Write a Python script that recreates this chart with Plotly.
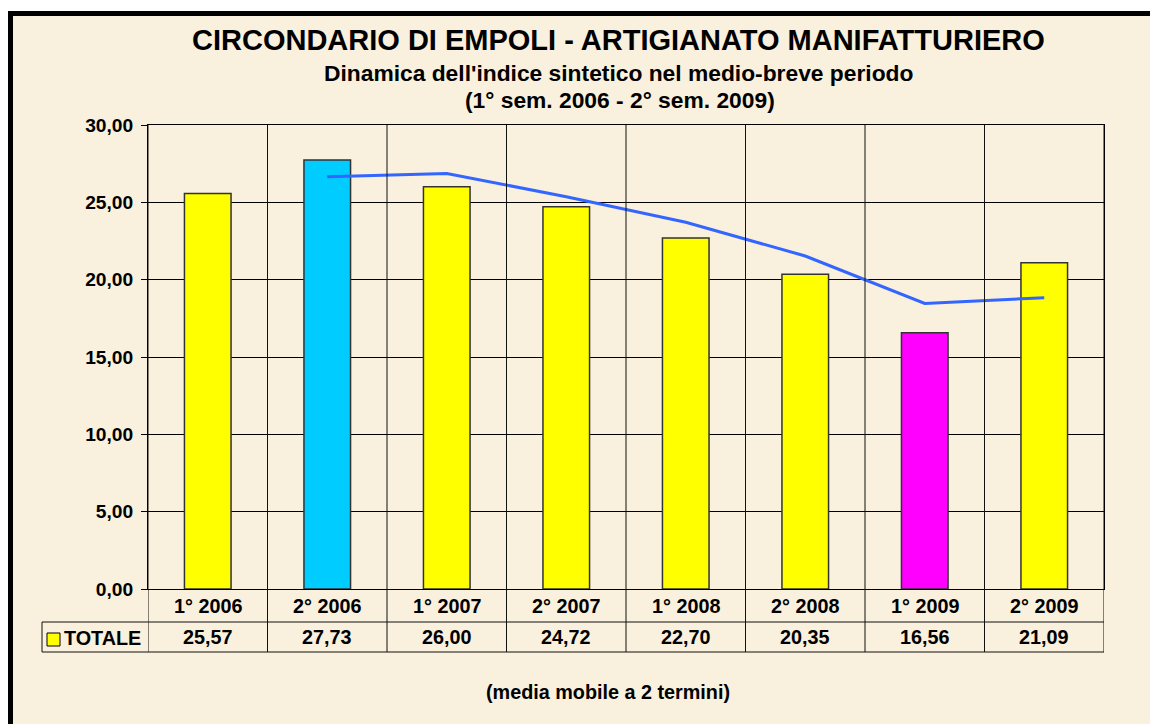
import plotly.graph_objects as go

# ---- data ----
categories = ["1° 2006", "2° 2006", "1° 2007", "2° 2007", "1° 2008", "2° 2008", "1° 2009", "2° 2009"]
totale = [25.57, 27.73, 26.00, 24.72, 22.70, 20.35, 16.56, 21.09]
media_mobile = [None, 26.65, 26.87, 25.36, 23.71, 21.53, 18.46, 18.83]
bar_colors = ["#FFFF00", "#00CCFF", "#FFFF00", "#FFFF00", "#FFFF00", "#FFFF00", "#FF00FF", "#FFFF00"]
y_ticks = [0, 5, 10, 15, 20, 25, 30]
y_tick_labels = ["0,00", "5,00", "10,00", "15,00", "20,00", "25,00", "30,00"]
series_name = "TOTALE"
title = "CIRCONDARIO DI EMPOLI - ARTIGIANATO MANIFATTURIERO"
subtitle1 = "Dinamica dell'indice sintetico nel medio-breve periodo"
subtitle2 = "(1° sem. 2006 - 2° sem. 2009)"
note = "(media mobile a 2 termini)"

W, H = 1150, 724
L, R, T, B = 148, 1104, 125, 589
FONT = "Liberation Sans, Arial, sans-serif"


def px_x(px):
    return (px - L) / (R - L)


def px_y(py):
    return (B - py) / (B - T)


fig = go.Figure()
fig.add_trace(go.Bar(
    x=list(range(len(categories))), y=totale, width=0.39,
    marker=dict(color=bar_colors, line=dict(color="#333333", width=1.5)),
    name=series_name, showlegend=False, hoverinfo="y",
))
fig.add_trace(go.Scatter(
    x=list(range(len(categories))), y=media_mobile, mode="lines",
    line=dict(color="#3366FF", width=3), showlegend=False, connectgaps=False,
))

shapes = []
# parchment frame
shapes.append(dict(type="rect", xref="paper", yref="paper", layer="below",
                   x0=px_x(10.5), x1=px_x(1170), y0=px_y(13.5), y1=px_y(745),
                   fillcolor="#F9F0DD", line=dict(color="black", width=5)))
# vertical grid lines (category boundaries) extending into table
n = len(categories)
y_tab_hdr_bot = px_y(622)
y_tab_bot = px_y(652)
for i in range(n + 1):
    shapes.append(dict(type="line", xref="x", yref="paper", layer="above",
                       x0=i - 0.5, x1=i - 0.5, y0=y_tab_bot, y1=1,
                       line=dict(color="#111111", width=1)))
# table horizontal lines
for yy in [y_tab_hdr_bot, y_tab_bot]:
    shapes.append(dict(type="line", xref="paper", yref="paper", layer="above",
                       x0=px_x(42), x1=1, y0=yy, y1=yy,
                       line=dict(color="#111111", width=1)))
shapes.append(dict(type="line", xref="paper", yref="paper", layer="above",
                   x0=px_x(42), x1=px_x(42), y0=y_tab_bot, y1=y_tab_hdr_bot,
                   line=dict(color="#111111", width=1)))
# legend key
shapes.append(dict(type="rect", xref="paper", yref="paper", layer="above",
                   x0=px_x(47), x1=px_x(60), y0=px_y(646), y1=px_y(633),
                   fillcolor="#FFFF00", line=dict(color="black", width=1)))

annotations = []
bold = dict(family=FONT, color="black", weight="bold")
for i, c in enumerate(categories):
    annotations.append(dict(x=i, y=px_y(605.5), xref="x", yref="paper", text=c,
                            showarrow=False, font=dict(size=19.8, **bold),
                            xanchor="center", yanchor="middle"))
    annotations.append(dict(x=i, y=px_y(637), xref="x", yref="paper",
                            text=f"{totale[i]:.2f}".replace(".", ","),
                            showarrow=False, font=dict(size=19.8, **bold),
                            xanchor="center", yanchor="middle"))
annotations.append(dict(x=px_x(62), y=px_y(638), xref="paper", yref="paper", text=series_name,
                        showarrow=False, font=dict(size=19.8, **bold),
                        xanchor="left", yanchor="middle"))
annotations.append(dict(x=px_x(618.5), y=px_y(40), xref="paper", yref="paper", text=title,
                        showarrow=False, font=dict(size=29, **bold),
                        xanchor="center", yanchor="middle"))
annotations.append(dict(x=px_x(618), y=px_y(73), xref="paper", yref="paper", text=subtitle1,
                        showarrow=False, font=dict(size=22.8, **bold),
                        xanchor="center", yanchor="middle"))
annotations.append(dict(x=px_x(620), y=px_y(100), xref="paper", yref="paper", text=subtitle2,
                        showarrow=False, font=dict(size=22.8, **bold),
                        xanchor="center", yanchor="middle"))
annotations.append(dict(x=px_x(607.5), y=px_y(692), xref="paper", yref="paper", text=note,
                        showarrow=False, font=dict(size=19.8, **bold),
                        xanchor="center", yanchor="middle"))

fig.update_layout(
    width=W, height=H,
    margin=dict(l=L, r=W - R, t=T, b=H - B, pad=0),
    paper_bgcolor="white", plot_bgcolor="white",
    shapes=shapes, annotations=annotations,
    bargap=0.6,
    xaxis=dict(range=[-0.5, n - 0.5], showticklabels=False, ticks="", showgrid=False,
               zeroline=False, showline=True, linecolor="black", linewidth=1, mirror=True,
               fixedrange=True),
    yaxis=dict(range=[0, 30], tickvals=y_ticks, ticktext=y_tick_labels,
               tickfont=dict(size=19.2, **bold), ticks="outside", ticklen=6,
               tickcolor="black", tickwidth=1, ticklabelstandoff=4,
               showgrid=True, gridcolor="black", gridwidth=1, zeroline=False,
               showline=True, linecolor="black", linewidth=1, mirror=True, fixedrange=True),
    font=dict(family=FONT, color="black"),
)

fig.write_html("out.html", config={"displayModeBar": False},
               post_script="document.body.style.margin='0';document.body.style.overflow='hidden';")
